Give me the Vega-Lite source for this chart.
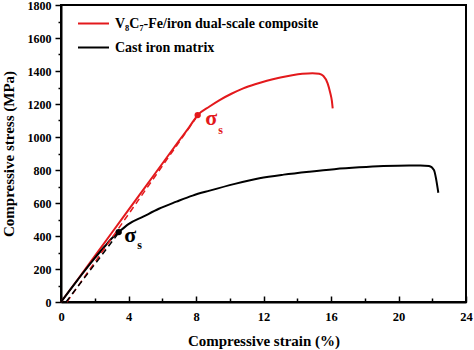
{
  "$schema": "https://vega.github.io/schema/vega-lite/v6.json",
  "width": 405,
  "height": 297,
  "autosize": {"type": "none"},
  "padding": {"left": 61, "top": 5, "right": 8, "bottom": 48},
  "background": "white",
  "config": {
    "view": {"stroke": "#000", "strokeWidth": 2},
    "font": "Liberation Serif"
  },
  "datasets": {
    "curves": [
      {"s": "V₈C₇-Fe/iron dual-scale composite", "x": 0, "y": 0},
      {"s": "V₈C₇-Fe/iron dual-scale composite", "x": 1, "y": 138},
      {"s": "V₈C₇-Fe/iron dual-scale composite", "x": 2, "y": 278},
      {"s": "V₈C₇-Fe/iron dual-scale composite", "x": 3, "y": 418},
      {"s": "V₈C₇-Fe/iron dual-scale composite", "x": 4, "y": 558},
      {"s": "V₈C₇-Fe/iron dual-scale composite", "x": 5, "y": 698},
      {"s": "V₈C₇-Fe/iron dual-scale composite", "x": 6, "y": 838},
      {"s": "V₈C₇-Fe/iron dual-scale composite", "x": 7, "y": 978},
      {"s": "V₈C₇-Fe/iron dual-scale composite", "x": 7.6, "y": 1060},
      {"s": "V₈C₇-Fe/iron dual-scale composite", "x": 8.1, "y": 1133},
      {"s": "V₈C₇-Fe/iron dual-scale composite", "x": 8.8, "y": 1185},
      {"s": "V₈C₇-Fe/iron dual-scale composite", "x": 9.4, "y": 1224},
      {"s": "V₈C₇-Fe/iron dual-scale composite", "x": 10.1, "y": 1262},
      {"s": "V₈C₇-Fe/iron dual-scale composite", "x": 10.8, "y": 1295},
      {"s": "V₈C₇-Fe/iron dual-scale composite", "x": 11.5, "y": 1320},
      {"s": "V₈C₇-Fe/iron dual-scale composite", "x": 12.2, "y": 1341},
      {"s": "V₈C₇-Fe/iron dual-scale composite", "x": 13, "y": 1360},
      {"s": "V₈C₇-Fe/iron dual-scale composite", "x": 13.7, "y": 1374},
      {"s": "V₈C₇-Fe/iron dual-scale composite", "x": 14.3, "y": 1383},
      {"s": "V₈C₇-Fe/iron dual-scale composite", "x": 14.9, "y": 1387},
      {"s": "V₈C₇-Fe/iron dual-scale composite", "x": 15.3, "y": 1383},
      {"s": "V₈C₇-Fe/iron dual-scale composite", "x": 15.55, "y": 1370},
      {"s": "V₈C₇-Fe/iron dual-scale composite", "x": 15.8, "y": 1325},
      {"s": "V₈C₇-Fe/iron dual-scale composite", "x": 15.95, "y": 1270},
      {"s": "V₈C₇-Fe/iron dual-scale composite", "x": 16.05, "y": 1220},
      {"s": "V₈C₇-Fe/iron dual-scale composite", "x": 16.1, "y": 1174},
      {"s": "Cast iron matrix", "x": 0, "y": 0},
      {"s": "Cast iron matrix", "x": 1, "y": 136},
      {"s": "Cast iron matrix", "x": 2, "y": 266},
      {"s": "Cast iron matrix", "x": 2.6, "y": 338},
      {"s": "Cast iron matrix", "x": 3.0, "y": 385},
      {"s": "Cast iron matrix", "x": 3.45, "y": 426},
      {"s": "Cast iron matrix", "x": 4, "y": 472},
      {"s": "Cast iron matrix", "x": 4.87, "y": 517},
      {"s": "Cast iron matrix", "x": 5.8, "y": 565},
      {"s": "Cast iron matrix", "x": 6.84, "y": 608},
      {"s": "Cast iron matrix", "x": 7.8, "y": 645},
      {"s": "Cast iron matrix", "x": 8.81, "y": 675},
      {"s": "Cast iron matrix", "x": 10.3, "y": 716},
      {"s": "Cast iron matrix", "x": 11.76, "y": 750},
      {"s": "Cast iron matrix", "x": 13.2, "y": 772},
      {"s": "Cast iron matrix", "x": 14.72, "y": 790},
      {"s": "Cast iron matrix", "x": 16.2, "y": 805},
      {"s": "Cast iron matrix", "x": 17.67, "y": 816},
      {"s": "Cast iron matrix", "x": 19.1, "y": 824},
      {"s": "Cast iron matrix", "x": 20.63, "y": 828},
      {"s": "Cast iron matrix", "x": 21.3, "y": 828},
      {"s": "Cast iron matrix", "x": 21.81, "y": 824},
      {"s": "Cast iron matrix", "x": 22.1, "y": 800},
      {"s": "Cast iron matrix", "x": 22.24, "y": 739},
      {"s": "Cast iron matrix", "x": 22.36, "y": 662}
    ],
    "dashed": [
      {"s": "V₈C₇-Fe/iron dual-scale composite", "x": 0.35, "y": 0},
      {"s": "V₈C₇-Fe/iron dual-scale composite", "x": 8.0, "y": 1115},
      {"s": "Cast iron matrix", "x": 0.3, "y": 0},
      {"s": "Cast iron matrix", "x": 3.35, "y": 410}
    ],
    "dots": [
      {"s": "V₈C₇-Fe/iron dual-scale composite", "x": 8.1, "y": 1133},
      {"s": "Cast iron matrix", "x": 3.42, "y": 424}
    ],
    "sigma": [
      {"s": "V₈C₇-Fe/iron dual-scale composite", "x": 8.9, "y": 1113, "t": "σ", "k": "big"},
      {"s": "V₈C₇-Fe/iron dual-scale composite", "x": 9.45, "y": 1040, "t": "s", "k": "sub"},
      {"s": "Cast iron matrix", "x": 4.1, "y": 406, "t": "σ", "k": "big"},
      {"s": "Cast iron matrix", "x": 4.65, "y": 345, "t": "s", "k": "sub"}
    ]
  },
  "encoding": {
    "x": {
      "field": "x", "type": "quantitative",
      "scale": {"domain": [0, 24], "nice": false, "zero": false},
      "axis": {
        "title": "Compressive strain (%)",
        "values": [0, 2, 4, 6, 8, 10, 12, 14, 16, 18, 20, 22, 24],
        "labelExpr": "datum.value % 4 == 0 ? datum.label : ''",
        "grid": false,
        "domainColor": "#000", "domainWidth": 2,
        "tickColor": "#000", "tickWidth": 1.5,
        "tickSize": {"condition": {"test": "datum.value % 4 == 0", "value": -6}, "value": -4},
        "labelPadding": 14,
        "labelFont": "Liberation Serif", "labelFontWeight": "bold", "labelFontSize": 12.5, "labelColor": "#000",
        "labelFlush": false, "labelOverlap": false,
        "titleFont": "Liberation Serif", "titleFontWeight": "bold", "titleFontSize": 15, "titleColor": "#000",
        "titlePadding": 9
      }
    },
    "y": {
      "field": "y", "type": "quantitative",
      "scale": {"domain": [0, 1800], "nice": false},
      "axis": {
        "title": "Compressive stress (MPa)",
        "values": [0, 100, 200, 300, 400, 500, 600, 700, 800, 900, 1000, 1100, 1200, 1300, 1400, 1500, 1600, 1700, 1800],
        "labelExpr": "datum.value % 200 == 0 ? datum.label : ''",
        "format": "d",
        "grid": false,
        "domainColor": "#000", "domainWidth": 2,
        "tickColor": "#000", "tickWidth": 1.5,
        "tickSize": {"condition": {"test": "datum.value % 200 == 0", "value": 6}, "value": 3},
        "labelPadding": 4,
        "labelFont": "Liberation Serif", "labelFontWeight": "bold", "labelFontSize": 12, "labelColor": "#000",
        "labelFlush": false, "labelOverlap": false,
        "titleFont": "Liberation Serif", "titleFontWeight": "bold", "titleFontSize": 15, "titleColor": "#000",
        "titlePadding": 11
      }
    },
    "color": {
      "field": "s", "type": "nominal",
      "scale": {"domain": ["V₈C₇-Fe/iron dual-scale composite", "Cast iron matrix"], "range": ["#e3191c", "#000000"]},
      "legend": null
    }
  },
  "layer": [
    {
      "data": {"name": "curves"},
      "mark": {"type": "line", "strokeWidth": 2, "interpolate": "monotone"},
      "encoding": {
        "color": {
          "field": "s", "type": "nominal",
          "scale": {"domain": ["V₈C₇-Fe/iron dual-scale composite", "Cast iron matrix"], "range": ["#e3191c", "#000000"]},
          "legend": {
            "title": null,
            "orient": "none",
            "legendX": 16,
            "legendY": 2,
            "symbolType": "stroke",
            "symbolSize": 961,
            "symbolStrokeWidth": 2,
            "labelFont": "Liberation Serif",
            "labelFontWeight": "bold",
            "labelFontSize": 14,
            "labelColor": "#000",
            "labelOffset": 5,
            "labelLimit": 400,
            "rowPadding": 0
          }
        }
      }
    },
    {
      "data": {"name": "dashed"},
      "mark": {"type": "line", "strokeWidth": 1.5, "strokeDash": [6, 4]},
      "encoding": {}
    },
    {
      "data": {"name": "dots"},
      "mark": {"type": "point", "filled": true, "opacity": 1, "size": 40},
      "encoding": {}
    },
    {
      "data": {"name": "sigma"},
      "mark": {"type": "text", "font": "Liberation Serif", "fontWeight": "bold", "align": "center", "baseline": "middle"},
      "encoding": {
        "text": {"field": "t"},
        "size": {"field": "k", "type": "nominal", "scale": {"domain": ["big", "sub"], "range": [22, 12]}, "legend": null}
      }
    }
  ]
}
